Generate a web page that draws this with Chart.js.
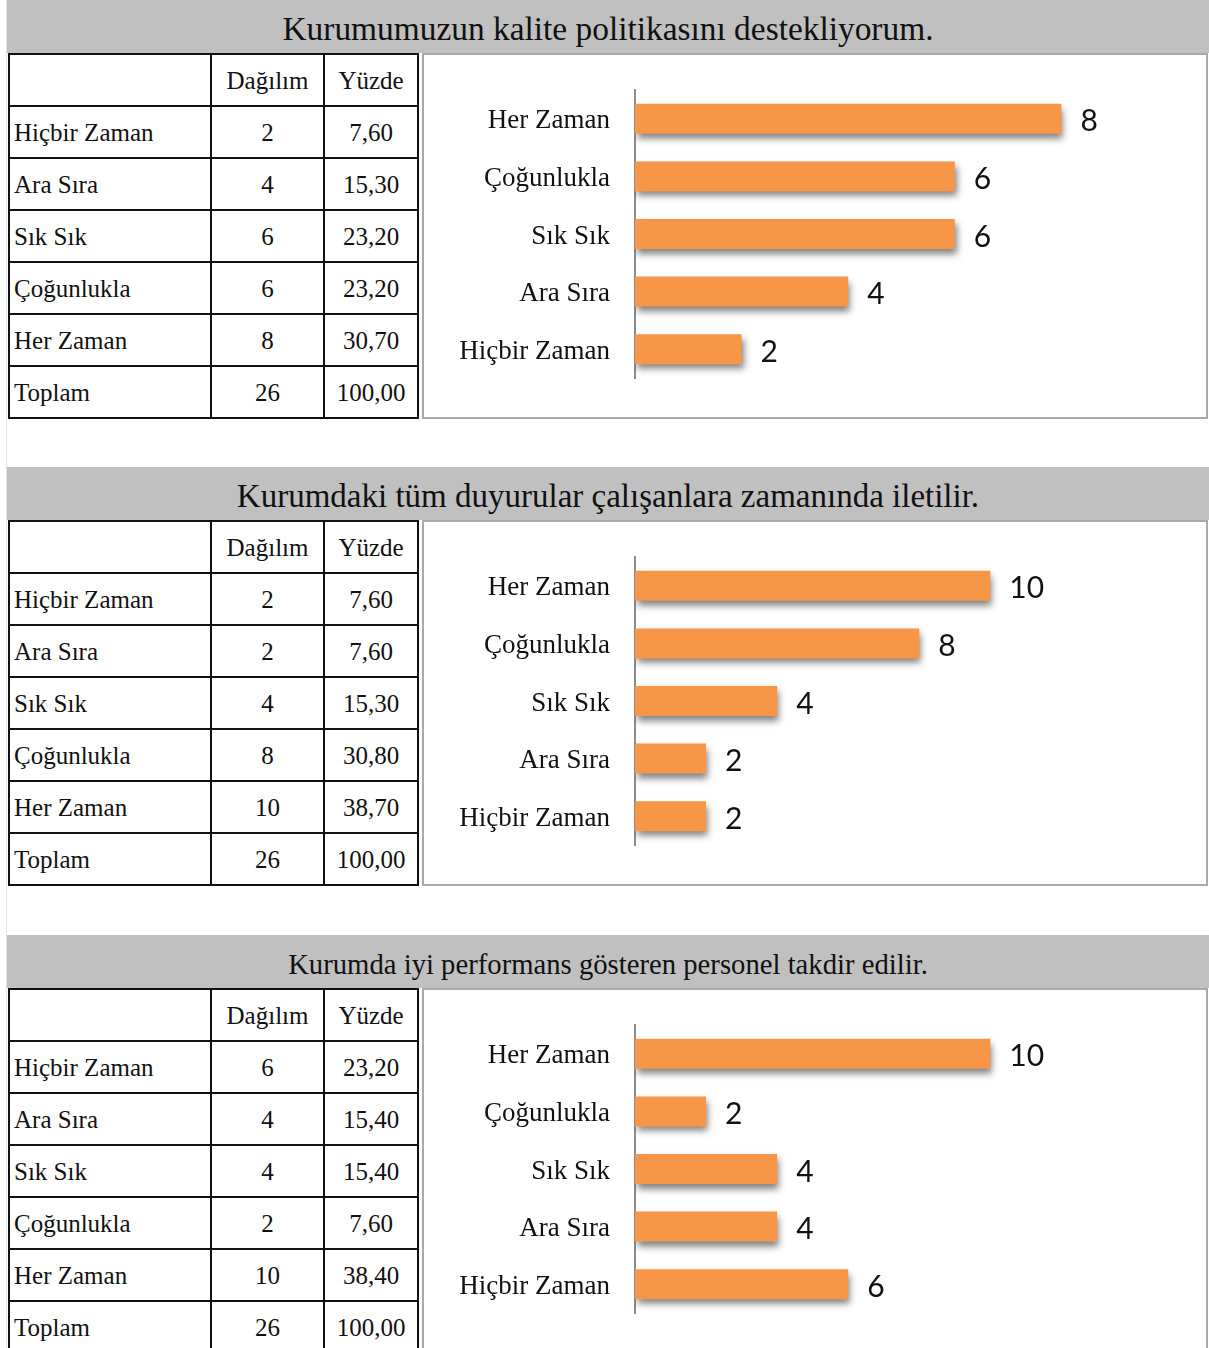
<!DOCTYPE html>
<html>
<head>
<meta charset="utf-8">
<script src="https://cdn.jsdelivr.net/npm/chart.js@4.4.1/dist/chart.umd.min.js"></script>
<style>
  html, body { margin: 0; padding: 0; background: #fff; }
  body { width: 1209px; height: 1348px; overflow: hidden; position: relative; }
  .guide { position: absolute; left: 6px; top: 0; width: 1px; height: 1348px; background: #dfe3ee; }
  .bar { position: absolute; left: 7px; width: 1202px; height: 53px; background: #c0c0c0;
         font-family: "Liberation Serif", serif; color: #111; text-align: center; line-height: 58px; }
  table { position: absolute; left: 8px; border-collapse: collapse; font-family: "Liberation Serif", serif;
          font-size: 25px; color: #111; }
  td { border: 2px solid #111; height: 49px; padding: 1px 0 0 0; }
  td.lbl { width: 196px; padding-left: 4px; text-align: left; }
  td.n1 { width: 111px; text-align: center; }
  td.n2 { width: 92px; text-align: center; }
  .box { position: absolute; left: 422px; width: 782px; height: 362px; border: 2px solid #a9a9a9; background: #fff; }
  .box canvas { position: absolute; left: 0; top: 0; }
</style>
</head>
<body>
<div class="guide"></div>
<div id="page"></div>
<script>
// answer categories in table order (top row first)
const categories = ["Hiçbir Zaman", "Ara Sıra", "Sık Sık", "Çoğunlukla", "Her Zaman"];
const titles = [
  "Kurumumuzun kalite politikasını destekliyorum.",
  "Kurumdaki tüm duyurular çalışanlara zamanında iletilir.",
  "Kurumda iyi performans gösteren personel takdir edilir."
];
const counts1 = [2, 4, 6, 6, 8];
const counts2 = [2, 2, 4, 8, 10];
const counts3 = [6, 4, 4, 2, 10];
const percents1 = ["7,60", "15,30", "23,20", "23,20", "30,70"];
const percents2 = ["7,60", "7,60", "15,30", "30,80", "38,70"];
const percents3 = ["23,20", "15,40", "15,40", "7,60", "38,40"];
const totalCount = ["26", "26", "26"];
const totalPercent = ["100,00", "100,00", "100,00"];
const axisMax = [10, 15, 15];
const titleSizes = [33.4, 33, 28.7];

const counts = [counts1, counts2, counts3];
const percents = [percents1, percents2, percents3];
const sectionTop = [0, 467, 935];

const page = document.getElementById("page");

// soft shadow under bars, like the office chart style
const barShadow = {
  id: "barShadow",
  beforeDatasetsDraw(chart) {
    const c = chart.ctx;
    c.save();
    c.shadowColor = "rgba(0,0,0,0.5)";
    c.shadowBlur = 7;
    c.shadowOffsetX = 2;
    c.shadowOffsetY = 5;
  },
  afterDatasetsDraw(chart) {
    chart.ctx.restore();
  }
};

// value next to the end of each bar
const valueLabels = {
  id: "valueLabels",
  afterDatasetsDraw(chart) {
    const c = chart.ctx;
    const meta = chart.getDatasetMeta(0);
    const vals = chart.data.datasets[0].data;
    c.save();
    c.font = "30px Lato, 'Open Sans', sans-serif";
    c.fillStyle = "#111";
    c.textAlign = "left";
    c.textBaseline = "middle";
    meta.data.forEach((bar, i) => {
      c.fillText(String(vals[i]), bar.x + 19, bar.y + 3);
    });
    c.restore();
  }
};

titles.forEach((title, s) => {
  const top = sectionTop[s];

  const bar = document.createElement("div");
  bar.className = "bar";
  bar.style.top = top + "px";
  bar.style.fontSize = titleSizes[s] + "px";
  bar.textContent = title;
  page.appendChild(bar);

  // table
  const table = document.createElement("table");
  table.style.top = (top + 53) + "px";
  let rows = '<tr><td class="lbl"></td><td class="n1">Dağılım</td><td class="n2">Yüzde</td></tr>';
  categories.forEach((cat, i) => {
    rows += `<tr><td class="lbl">${cat}</td><td class="n1">${counts[s][i]}</td><td class="n2">${percents[s][i]}</td></tr>`;
  });
  rows += `<tr><td class="lbl">Toplam</td><td class="n1">${totalCount[s]}</td><td class="n2">${totalPercent[s]}</td></tr>`;
  table.innerHTML = rows;
  page.appendChild(table);

  // chart box
  const box = document.createElement("div");
  box.className = "box";
  box.style.top = (top + 53) + "px";
  const canvas = document.createElement("canvas");
  canvas.width = 782;
  canvas.height = 362;
  box.appendChild(canvas);
  page.appendChild(box);

  new Chart(canvas.getContext("2d"), {
    type: "bar",
    data: {
      labels: categories,
      datasets: [{
        data: counts[s],
        backgroundColor: "#f79646",
        borderWidth: 0,
        barPercentage: 0.52,
        categoryPercentage: 1
      }]
    },
    options: {
      indexAxis: "y",
      responsive: false,
      animation: false,
      devicePixelRatio: 1,
      layout: { padding: { top: 35, bottom: 39, right: 38, left: 1 } },
      scales: {
        x: { display: false, min: 0, max: axisMax[s] },
        y: {
          reverse: true,
          grid: { display: false, drawTicks: false },
          border: { display: true, color: "#8c8c8c", width: 2 },
          ticks: {
            padding: 25,
            labelOffset: 2.5,
            color: "#111",
            font: { family: "'Liberation Serif', serif", size: 27 }
          },
          afterFit(scale) {
            scale.width = 210;
            scale.paddingTop = 0;
            scale.paddingBottom = 0;
          }
        }
      },
      plugins: { legend: { display: false }, tooltip: { enabled: false } }
    },
    plugins: [barShadow, valueLabels]
  });
});
</script>
</body>
</html>
